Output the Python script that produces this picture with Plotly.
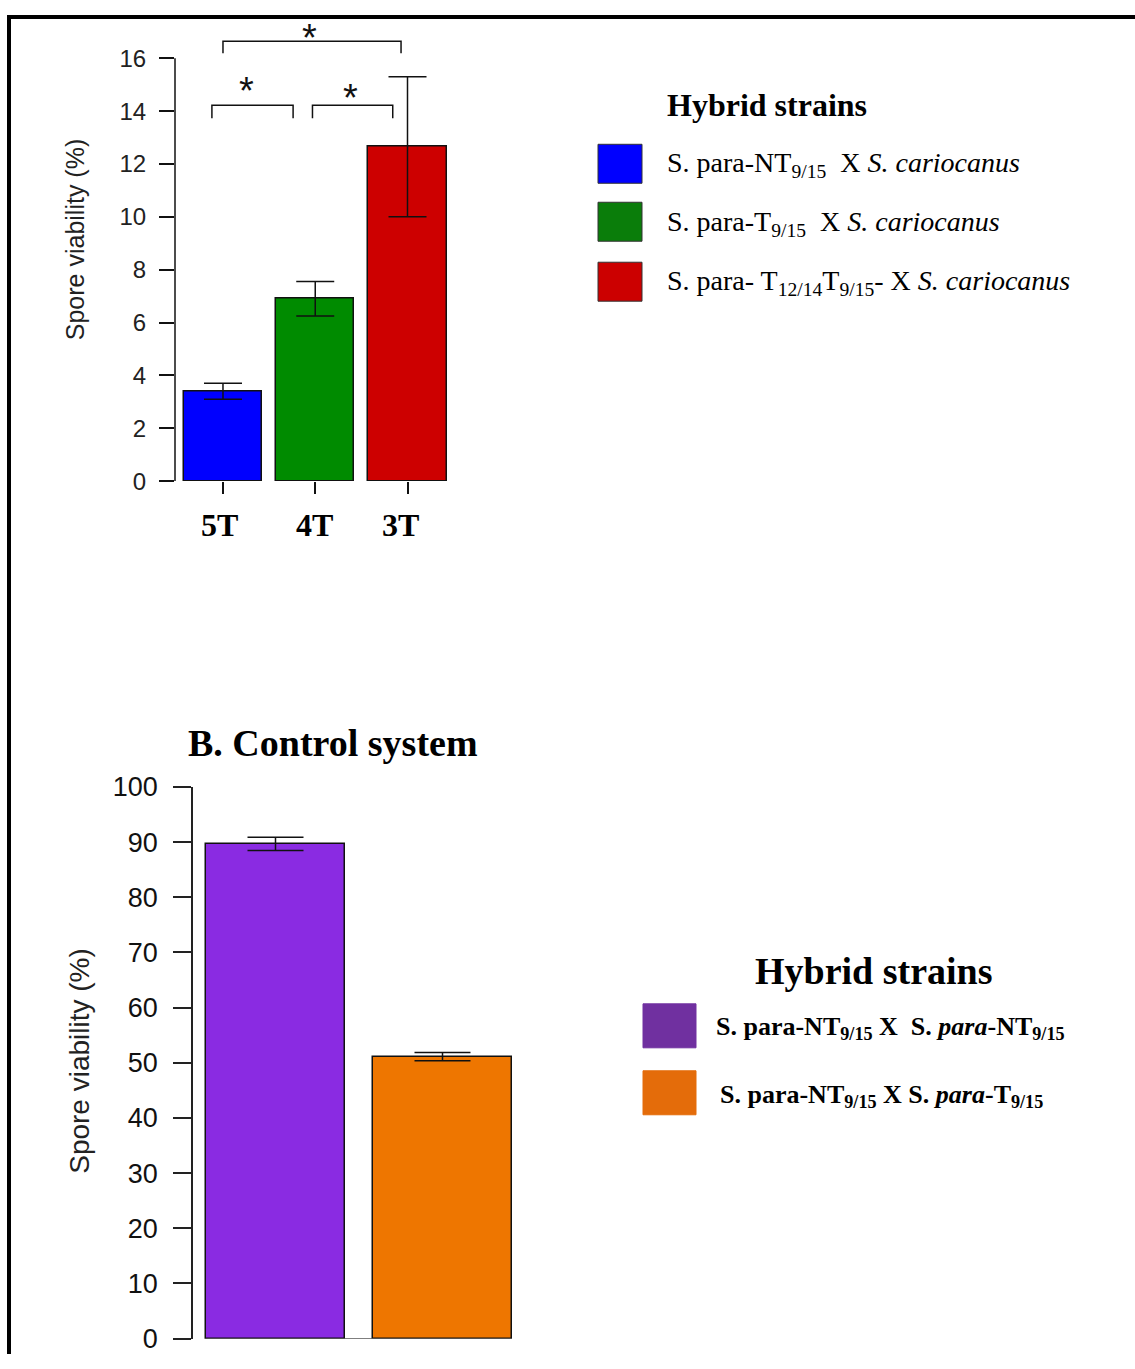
import plotly.graph_objects as go

W, H = 1135, 1369

# ---------------- Panel A data ----------------
a_categories = ["5T", "4T", "3T"]
a_values = [3.4, 6.9, 12.65]
a_errors = [0.3, 0.65, 2.65]
a_colors = ["#0000FF", "#008B00", "#CD0000"]
a_legend_colors = ["#0000FF", "#0A7D0A", "#CC0000"]
a_legend_labels = [
    "S. para-NT<sub>9/15</sub>  X <i>S. cariocanus</i>",
    "S. para-T<sub>9/15</sub>  X <i>S. cariocanus</i>",
    "S. para- T<sub>12/14</sub>T<sub>9/15</sub>- X <i>S. cariocanus</i>",
]
a_yticks = [0, 2, 4, 6, 8, 10, 12, 14, 16]
a_label_offsets = [-0.04, -0.01, -0.08]   # category label shift (category units)
# significance brackets: (x_left, x_right, y_top, y_leg_end, star_x, star_y, label)
a_brackets = [
    (-0.12, 0.76, 14.22, 13.73, 0.26, 14.94, "*"),
    (0.97, 1.84, 14.22, 13.73, 1.38, 14.67, "*"),
    (0.0, 1.93, 16.64, 16.19, 0.94, 16.94, "*"),
]

# ---------------- Panel B data ----------------
b_categories = ["NT x NT", "NT x T"]
b_values = [89.7, 51.1]
b_errors = [1.2, 0.75]
b_colors = ["#8A2BE2", "#EE7600"]
b_legend_colors = ["#7030A0", "#E46C0A"]
b_legend_labels = [
    "<b>S. para-NT<sub>9/15</sub> X  S. <i>para</i>-NT<sub>9/15</sub></b>",
    "<b>S. para-NT<sub>9/15</sub> X S. <i>para</i>-T<sub>9/15</sub></b>",
]
b_yticks = [0, 10, 20, 30, 40, 50, 60, 70, 80, 90, 100]


def px(x):
    return x / W


def Y(p):
    # target screen row -> figure row
    return (p - 13.65) / 0.9786


def py(p):
    return 1 - Y(p) / H


SERIF = "Liberation Serif"
SANS = "Liberation Sans"

fig = go.Figure()

fig.add_trace(go.Bar(
    x=a_categories, y=a_values,
    marker=dict(color=a_colors, line=dict(color="#111111", width=1.5)),
    error_y=dict(type="data", array=a_errors, color="#111111", thickness=1.5, width=19),
    width=0.85, xaxis="x", yaxis="y", showlegend=False,
))
fig.add_trace(go.Bar(
    x=b_categories, y=b_values,
    marker=dict(color=b_colors, line=dict(color="#111111", width=1.5)),
    error_y=dict(type="data", array=b_errors, color="#111111", thickness=1.5, width=28),
    width=0.83, xaxis="x2", yaxis="y2", showlegend=False,
))

shapes = []
annotations = []

# Frame
shapes.append(dict(type="line", xref="paper", yref="paper", x0=px(7), x1=1, y0=1 - 2 / H, y1=1 - 2 / H,
                   line=dict(color="black", width=4)))
shapes.append(dict(type="line", xref="paper", yref="paper", x0=px(9), x1=px(9), y0=1, y1=0,
                   line=dict(color="black", width=4)))

# Panel A y-axis line (0 to top tick only)
shapes.append(dict(type="line", xref="x domain", yref="y", x0=0, x1=0, y0=a_yticks[0], y1=a_yticks[-1],
                   line=dict(color="#111111", width=1.5)))

# significance brackets
for xl, xr, yt, yl, sx, sy, lab in a_brackets:
    shapes.append(dict(type="path", xref="x", yref="y",
                       path=f"M {xl},{yl} L {xl},{yt} L {xr},{yt} L {xr},{yl}",
                       line=dict(color="#111111", width=1.5)))
    annotations.append(dict(x=sx, y=sy, xref="x", yref="y", text=lab, showarrow=False,
                            xanchor="center", yanchor="middle", yshift=-5,
                            font=dict(family=SANS, size=38, color="#111111")))

# Panel A category labels
for i, (cat, off) in enumerate(zip(a_categories, a_label_offsets)):
    annotations.append(dict(x=i + off, y=py(524), xref="x", yref="paper", text=f"<b>{cat}</b>",
                            showarrow=False, xanchor="center", yanchor="middle",
                            font=dict(family=SERIF, size=32, color="black")))

# Panel B baseline across bars
nb = len(b_categories)
shapes.append(dict(type="line", xref="x2", yref="y2", x0=-0.83 / 2, x1=(nb - 1) + 0.83 / 2, y0=0, y1=0,
                   line=dict(color="#555555", width=1.5)))

# Axis titles
annotations.append(dict(x=px(75), y=py(239), xref="paper", yref="paper", text="Spore viability (%)",
                        textangle=-90, showarrow=False, xanchor="center", yanchor="middle",
                        font=dict(family=SANS, size=25, color="#222222")))
annotations.append(dict(x=px(80), y=py(1060), xref="paper", yref="paper", text="Spore viability (%)",
                        textangle=-90, showarrow=False, xanchor="center", yanchor="middle",
                        font=dict(family=SANS, size=28, color="#222222")))

# Panel B title
annotations.append(dict(x=px(333), y=py(742), xref="paper", yref="paper", text="<b>B. Control system</b>",
                        showarrow=False, xanchor="center", yanchor="middle",
                        font=dict(family=SERIF, size=38, color="black")))

# Legend A
annotations.append(dict(x=px(665), y=py(104), xref="paper", yref="paper", text="<b>Hybrid strains</b>",
                        showarrow=False, xanchor="left", yanchor="middle",
                        font=dict(family=SERIF, size=32, color="black")))
a_sw_top = [143, 201, 261]
a_txt_y = [163, 222, 281]
for i, (c, lab) in enumerate(zip(a_legend_colors, a_legend_labels)):
    shapes.append(dict(type="rect", xref="paper", yref="paper", x0=px(598), x1=px(642),
                       y0=py(a_sw_top[i]), y1=py(a_sw_top[i] + 39), fillcolor=c,
                       line=dict(color="#333333", width=1)))
    annotations.append(dict(x=px(665), y=py(a_txt_y[i]), xref="paper", yref="paper", text=lab,
                            showarrow=False, xanchor="left", yanchor="middle",
                            font=dict(family=SERIF, size=28, color="black")))

# Legend B
annotations.append(dict(x=px(874), y=py(970), xref="paper", yref="paper", text="<b>Hybrid strains</b>",
                        showarrow=False, xanchor="center", yanchor="middle",
                        font=dict(family=SERIF, size=38, color="black")))
b_sw_top = [1003, 1070]
b_txt = [(714, 1027), (718, 1095)]
for i, (c, lab) in enumerate(zip(b_legend_colors, b_legend_labels)):
    shapes.append(dict(type="rect", xref="paper", yref="paper", x0=px(643), x1=px(696),
                       y0=py(b_sw_top[i]), y1=py(b_sw_top[i] + 44), fillcolor=c,
                       line=dict(color=c, width=1)))
    annotations.append(dict(x=px(b_txt[i][0]), y=py(b_txt[i][1]), xref="paper", yref="paper", text=lab,
                            showarrow=False, xanchor="left", yanchor="middle",
                            font=dict(family=SERIF, size=26, color="black")))

fig.update_layout(
    width=W, height=H, autosize=False,
    margin=dict(l=0, r=0, t=0, b=0),
    paper_bgcolor="white", plot_bgcolor="white",
    bargap=0,
    xaxis=dict(domain=[px(175), px(460)], range=[-0.52, 2.569], type="category",
               showline=False, showgrid=False, zeroline=False, showticklabels=False,
               ticks="outside", ticklen=12, tickwidth=1.5, tickcolor="#111111", anchor="y"),
    yaxis=dict(domain=[py(480), py(25.2)], range=[0, 17.2], tickvals=a_yticks,
               showline=False, showgrid=False, zeroline=False,
               ticks="outside", ticklen=15, tickwidth=1.5, tickcolor="#111111",
               ticklabelstandoff=8,
               tickfont=dict(family=SANS, size=24, color="#222222"), anchor="x"),
    xaxis2=dict(domain=[px(193), px(526)], range=[-0.494, 1.5], type="category",
                showline=False, showgrid=False, zeroline=False, showticklabels=False,
                ticks="", anchor="y2"),
    yaxis2=dict(domain=[py(1338), py(786)], range=[0, 100], tickvals=b_yticks,
                showline=True, linecolor="#222222", linewidth=1.5,
                showgrid=False, zeroline=False,
                ticks="outside", ticklen=18, tickwidth=1.5, tickcolor="#222222",
                ticklabelstandoff=10,
                tickfont=dict(family=SANS, size=27, color="#111111"), anchor="x2"),
    shapes=shapes,
    annotations=annotations,
)

fig.write_html(
    "out.html",
    post_script="document.body.style.margin='0';document.documentElement.style.overflow='hidden';",
)
